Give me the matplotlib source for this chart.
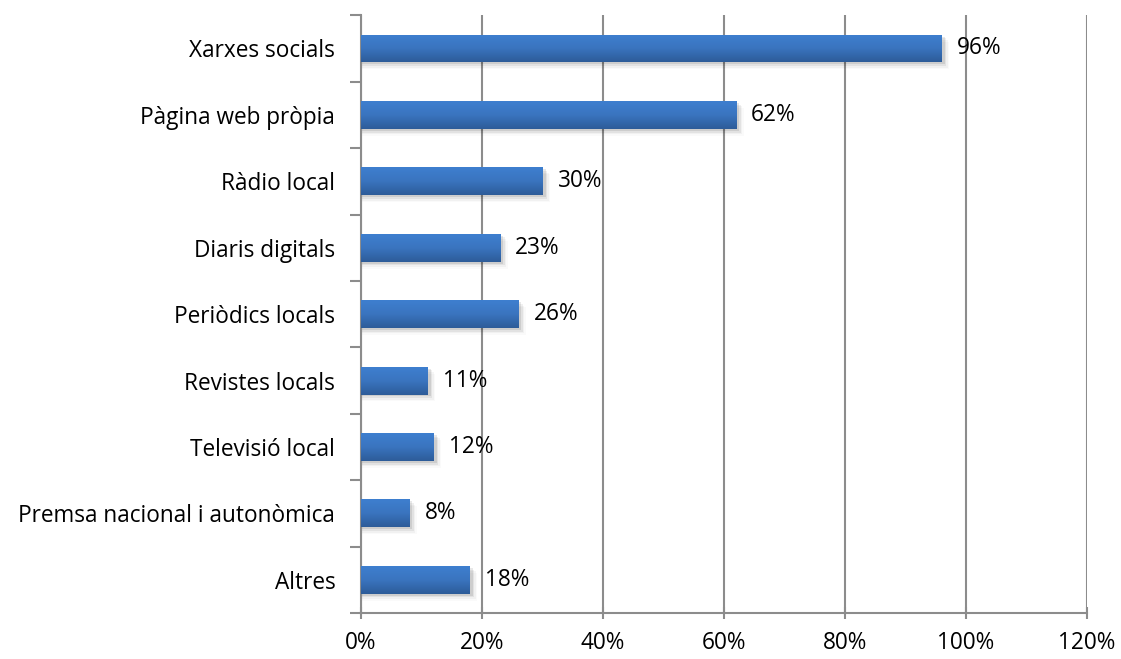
import numpy as np
import matplotlib.pyplot as plt
from matplotlib.colors import LinearSegmentedColormap
from matplotlib.ticker import FixedLocator, PercentFormatter

plt.rcParams['font.family'] = ['Open Sans', 'DejaVu Sans']

# --- dades ---
categories = ['Xarxes socials', 'Pàgina web pròpia', 'Ràdio local', 'Diaris digitals',
              'Periòdics locals', 'Revistes locals', 'Televisió local',
              'Premsa nacional i autonòmica', 'Altres']
values = [96, 62, 30, 23, 26, 11, 12, 8, 18]
x_ticks = [0, 20, 40, 60, 80, 100, 120]

grid_col = '#8c8c8c'
bar_h = 0.42
fs = 16.3

fig = plt.figure(figsize=(11.21, 6.59), dpi=100)
ax = fig.add_axes([0.322, 0.0698, 0.6477, 0.907])

# degradat vertical de les barres (clar a dalt, fosc a baix)
cmap = LinearSegmentedColormap.from_list('barra', ['#3e7fcf', '#3a74bf', '#2d5c99'])
grad = np.linspace(0, 1, 64).reshape(-1, 1)

pos = np.arange(len(categories))
for y, v in zip(pos, values):
    # ombra suau sota la barra
    for k, a in enumerate([0.09, 0.06, 0.035, 0.02]):
        off = 0.03 + k * 0.025
        ax.add_patch(plt.Rectangle((0.2, y - bar_h / 2 + off), v + 0.3 + k * 0.25, bar_h,
                                   facecolor='black', alpha=a, linewidth=0, zorder=2))
    rect = plt.Rectangle((0, y - bar_h / 2), v, bar_h, facecolor='none', linewidth=0, zorder=3)
    ax.add_patch(rect)
    im = ax.imshow(grad, cmap=cmap, aspect='auto', extent=(0, v, y + bar_h / 2, y - bar_h / 2),
                   zorder=3, interpolation='bilinear')
    im.set_clip_path(rect)
    ax.text(v + 2.5, y, f'{v}%', va='center', ha='left', fontsize=fs, color='black', zorder=5)

ax.set_xlim(0, 120)
ax.set_ylim(len(categories) - 0.5, -0.5)

ax.set_xticks(x_ticks)
ax.xaxis.set_major_formatter(PercentFormatter(decimals=0))
ax.grid(axis='x', color=grid_col, linewidth=1.5, zorder=1)
ax.set_axisbelow(True)

ax.set_yticks(pos)
ax.set_yticklabels(categories)
ax.yaxis.set_minor_locator(FixedLocator(np.arange(-0.5, len(categories), 1.0)))
ax.tick_params(axis='y', which='major', length=0, pad=18.5, labelsize=fs)
ax.tick_params(axis='y', which='minor', length=8, width=1.5, color=grid_col, direction='out')
ax.tick_params(axis='x', length=8, width=1.5, color=grid_col, direction='inout', pad=9, labelsize=fs)

for s in ['top', 'right']:
    ax.spines[s].set_visible(False)
for s in ['left', 'bottom']:
    ax.spines[s].set_color(grid_col)
    ax.spines[s].set_linewidth(1.5)

fig.savefig('out.png', dpi=100)
